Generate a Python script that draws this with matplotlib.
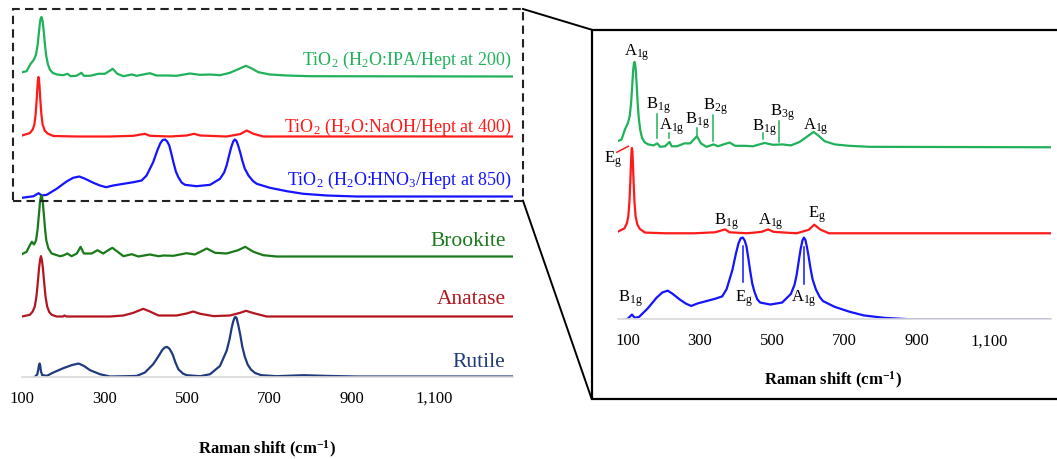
import matplotlib
matplotlib.use("Agg")
import matplotlib.pyplot as plt
from matplotlib.lines import Line2D
from matplotlib.patches import Rectangle
import matplotlib.transforms as mtransforms

plt.rcParams['font.family'] = 'Liberation Serif'
plt.rcParams['mathtext.fontset'] = 'custom'
plt.rcParams['mathtext.rm'] = 'Liberation Serif'
plt.rcParams['mathtext.bf'] = 'Liberation Serif:bold'
plt.rcParams['mathtext.default'] = 'regular'

# spektrid loetud pildilt: lainearv (cm-1) ja intensiivsus (suhtelised ühikud)
ipa_x = [100, 111, 121, 129, 134, 138, 141, 143.5, 145.5, 147, 148.5, 150.5, 153, 156, 159, 163, 168,
         175, 185, 200, 210, 218, 232, 244, 250, 265, 285, 301, 320, 331, 346, 366, 378, 410, 426, 451,
         475, 507, 531, 556, 580, 604, 628, 643, 657, 673, 701, 742, 798, 1300]
ipa_y = [4.3, 5.3, 12.7, 17, 22, 32, 44, 54, 58.5, 59.5, 58.5, 54, 44, 30, 20, 12, 6.5,
         3.5, 2, 1.3, 2.7, 0.3, 0.7, 3.7, 0.7, 0.7, 2.7, 2.7, 7.7, 2.7, 0.3, 2, 0.7, 3.3, 1, 1,
         0.7, 3, 1.7, 2, 1.3, 3.7, 8, 10.7, 8, 4.3, 2, 1, 0.3, 0]

naoh_x = [100, 119, 126, 130, 133, 135.5, 137.5, 139, 139.8, 141, 142.5, 144.5, 147, 150, 155, 162,
          176, 233, 313, 370, 398, 410, 459, 499, 517, 532, 596, 629, 645, 661, 685, 798, 1300]
naoh_y = [1, 3.4, 7, 12, 22, 36, 50, 58, 59.5, 58, 50, 36, 22, 12, 6, 3,
          0.5, 0, 0, 0.7, 2.7, 0.7, 0, 1, 2.7, 1, 0, 2.4, 6, 2.7, 0, 0, 0]

hno3_x = [100, 128, 140, 148, 160, 184, 208, 224, 239, 253, 273, 289, 304, 321, 346, 370, 390, 402,
          418, 428, 435, 441, 447, 452, 457, 462, 467, 473, 479, 487, 495, 523, 556, 580, 590, 596,
          602, 607, 612, 616, 620, 624, 629, 634, 640, 649, 660, 669, 701, 742, 782, 839, 911, 1300]
hno3_y = [-1.3, 0.3, 3.3, 1, 1.7, 7.7, 15, 18.7, 20, 17.7, 13.7, 11, 9.3, 11, 12.7, 14.3, 16, 21,
          34.3, 46, 53, 56.5, 57, 55, 51, 43, 34.3, 25, 19.3, 14, 11.7, 10.3, 11.7, 17.7, 24, 31,
          41, 49, 55, 57, 55.5, 51, 44, 36, 28, 21, 15.5, 12.7, 8.7, 5.3, 2.7, 1, 0, 0]

brookite_x = [100, 111, 119, 124, 129, 134, 138, 141, 143.5, 145.5, 147, 148.5, 150.5, 153, 156, 159,
              164, 172, 192, 200, 210, 220, 233, 242, 250, 269, 283, 297, 309, 319, 330, 346, 366, 382,
              410, 431, 443, 467, 499, 519, 548, 568, 596, 624, 641, 661, 685, 717, 798, 1300]
brookite_y = [2.3, 4.7, 11.3, 14.7, 12, 16, 28, 42, 54, 59.5, 60.7, 59.5, 54, 42, 27, 16,
              8, 3, 0.3, 1, 3, 0.3, 3, 9.7, 3, 3, 6.3, 3, 6.3, 8.7, 5.3, 0.3, 2.3, 0,
              2, 0.3, 1, 0.7, 3.3, 2, 8, 3.7, 3, 6.3, 9.7, 4.7, 1.3, 0, 0, 0]

anatase_x = [100, 119, 126, 131, 135, 138.5, 141.5, 144, 146, 148, 150.5, 153.5, 157, 161, 166, 172,
             184, 199, 203, 208, 313, 346, 370, 394, 410, 431, 475, 499, 515, 532, 564, 604, 629, 643,
             661, 693, 798, 1300]
anatase_y = [0, 1.7, 5, 10, 20, 35, 49, 57, 60.4, 57, 49, 35, 20, 10, 4.5, 1.7,
             0, 0, 1, 0, 0, 1, 3.7, 7.7, 5, 1, 1, 3, 5, 2.7, 0.4, 1, 3.7, 5.7,
             3.4, 0, 0, 0]

rutile_x = [132, 137, 139.5, 141.5, 143, 144.5, 146, 149, 160, 176, 200, 220, 237, 250, 265, 289, 313,
            354, 378, 398, 418, 432, 440, 446, 452, 458, 465, 472, 479, 490, 499, 532, 556, 580, 596,
            603, 608, 612, 615.5, 618, 620.5, 624, 629, 634, 640, 647, 655, 665, 680, 717, 782, 839,
            911, 1300]
rutile_y = [0, 2, 7, 12, 13, 10, 5, 1.5, 0.6, 4, 8.3, 11.3, 13, 10.6, 6.3, 2.3, 0,
            0.3, 0.6, 4, 12.3, 21, 26.5, 29, 29.6, 27.5, 22.3, 14, 7.3, 3, 1.3, 0.3, 2.3, 10.6, 25.6,
            37, 48, 55, 59, 59.6, 58, 52, 42, 30, 20, 12, 7, 3.5, 1.3, 0.3, 1.3, 0.6,
            0, 0]

c_ipa = '#1fb25a'
c_naoh = '#ff1a1a'
c_hno3 = '#1414ff'
c_brookite = '#1a7a1a'
c_anatase = '#b3161e'
c_rutile = '#1f3a7d'

vasak_nimed = [r'TiO$_2$ (H$_2$O:IPA/Hept at 200)', r'TiO$_2$ (H$_2$O:NaOH/Hept at 400)',
               r'TiO$_2$ (H$_2$O:HNO$_3$/Hept at 850)', 'Brookite', 'Anatase', 'Rutile']
nihked = [300, 240, 180, 120, 60, 0]
tickid = [100, 300, 500, 700, 900, 1100]
ticktekst = ['100', '300', '500', '700', '900', '1,100']

W, H = 1057, 460
fig = plt.figure(figsize=(W / 100, H / 100), dpi=100)

def ax_px(x0, x1, ytop, ybot):
    return fig.add_axes([x0 / W, 1 - ybot / H, (x1 - x0) / W, (ybot - ytop) / H])

# vasak paneel
ax = ax_px(22, 22 + 1190 * 0.4125, 0, 377.5)
spektrid = [(ipa_x, ipa_y, c_ipa), (naoh_x, naoh_y, c_naoh), (hno3_x, hno3_y, c_hno3),
            (brookite_x, brookite_y, c_brookite), (anatase_x, anatase_y, c_anatase),
            (rutile_x, rutile_y, c_rutile)]
for (xs, ys, c), off in zip(spektrid, nihked):
    ax.plot(xs, [v + off for v in ys], color=c, lw=1.6, solid_joinstyle='round')
ax.set_xlim(100, 1290)
ax.set_ylim(0, 377.5)
for s in ['top', 'right', 'left']:
    ax.spines[s].set_visible(False)
ax.spines['bottom'].set_color('#d9d9d9')
ax.spines['bottom'].set_linewidth(1.2)
ax.set_yticks([])
ax.set_xticks(tickid)
ax.set_xticklabels(ticktekst)
ax.tick_params(axis='x', length=0, pad=9.5, labelsize=12)
ax.set_xlabel(r'Raman shift (cm$^{\mathbf{-1}}$)', fontsize=12, fontweight='bold')
ax.xaxis.set_label_coords(0.5, -0.163)
ax.xaxis.label.set_va('top')

nime_y = [317.5, 250.5, 197.5, 135.8, 77.5, 14.5]
nime_suurus = [13, 13, 13, 15.5, 15.5, 15.5]
nime_x = [1287, 1287, 1287, 1272, 1272, 1272]
for t, yy, fs, xx, (_, _, c) in zip(vasak_nimed, nime_y, nime_suurus, nime_x, spektrid):
    ax.text(xx, yy, t, color=c, fontsize=fs, ha='right', va='center')

# parem paneel (suurendus)
k = 0.3612
ax2 = ax_px(617.5, 617.5 + 1200 * k, 30.7, 320.3)
for (xs, ys, c), off in zip(spektrid[:3], [120, 60, 0]):
    ax2.plot(xs, [v + off for v in ys], color=c, lw=1.6, solid_joinstyle='round')
ax2.set_xlim(100, 1300)
ax2.set_ylim(0, 202)
for s in ['top', 'right', 'left']:
    ax2.spines[s].set_visible(False)
ax2.spines['bottom'].set_color('#d9d9d9')
ax2.spines['bottom'].set_linewidth(1.2)
ax2.set_yticks([])
ax2.set_xticks(tickid)
ax2.set_xticklabels(ticktekst)
ax2.tick_params(axis='x', length=0, pad=9.5, labelsize=12)
nihe = mtransforms.ScaledTranslation(10 / 100, 0, fig.dpi_scale_trans)
for lab in ax2.get_xticklabels():
    lab.set_transform(lab.get_transform() + nihe)
ax2.set_xlabel(r'Raman shift (cm$^{\mathbf{-1}}$)', fontsize=12, fontweight='bold')
ax2.xaxis.set_label_coords(0.497, -0.172)
ax2.xaxis.label.set_va('top')

# võnkemoodide märgised: (tekst, x, y, joone x, joone y0, joone y1)
moodid = [
    ('A$_{1g}$', 154, 186.7, None, None, None),
    ('B$_{1g}$', 212, 149.7, 209.4, 126.3, 143.3),
    ('A$_{1g}$', 251, 135.1, 243.4, 126.3, 130),
    ('B$_{1g}$', 322, 139.3, 319.3, 128.6, 133.5),
    ('B$_{2g}$', 372, 149, 364.4, 124.6, 142.6),
    ('B$_{1g}$', 507, 134.2, 503.7, 125.8, 129.8),
    ('B$_{3g}$', 557, 145, 547.1, 123.5, 138.6),
    ('A$_{1g}$', 650, 135.1, None, None, None),
]
for t, xx, yy, lx, ly0, ly1 in moodid:
    ax2.text(xx, yy, t, fontsize=12, ha='center', va='center')
    if lx is not None:
        ax2.plot([lx, lx], [ly0, ly1], color=c_ipa, lw=1.1)

ax2.text(88, 111.9, 'E$_g$', fontsize=12, ha='center', va='center')
ax2.plot([98, 130], [116.5, 120.7], color=c_naoh, lw=1.1, clip_on=False)
for t, xx, yy in [('B$_{1g}$', 400, 68.8), ('A$_{1g}$', 525, 68.8), ('E$_g$', 651, 73.5)]:
    ax2.text(xx, yy, t, fontsize=12, ha='center', va='center')

for t, xx, yy in [('E$_g$', 451, 15.4), ('A$_{1g}$', 616, 15.4), ('B$_{1g}$', 135, 15.4)]:
    ax2.text(xx, yy, t, fontsize=12, ha='center', va='center')
ax2.plot([446.6, 446.6], [26.2, 51.4], color=c_hno3, lw=1.1)
ax2.plot([616.3, 616.3], [24.6, 50.2], color=c_hno3, lw=1.1)

# raamid ja ühendusjooned (joonise pikslites)
def px(x, y):
    return x / W, 1 - y / H

fig.add_artist(Rectangle(px(13.3, 201.7), (523 - 13.3) / W, (201.7 - 10) / H,
                         transform=fig.transFigure, fill=False, ec='#222222', lw=1.5,
                         ls=(0, (4, 2.5))))
fig.add_artist(Rectangle(px(591.7, 400), (1070 - 591.7) / W, (400 - 30.7) / H,
                         transform=fig.transFigure, fill=False, ec='black', lw=1.6))
for (a, b) in [((523, 10), (591.7, 30.7)), ((523, 201.7), (591.7, 400))]:
    fig.add_artist(Line2D([px(*a)[0], px(*b)[0]], [px(*a)[1], px(*b)[1]],
                          transform=fig.transFigure, color='black', lw=1.4))

fig.savefig('out.png', dpi=100)
